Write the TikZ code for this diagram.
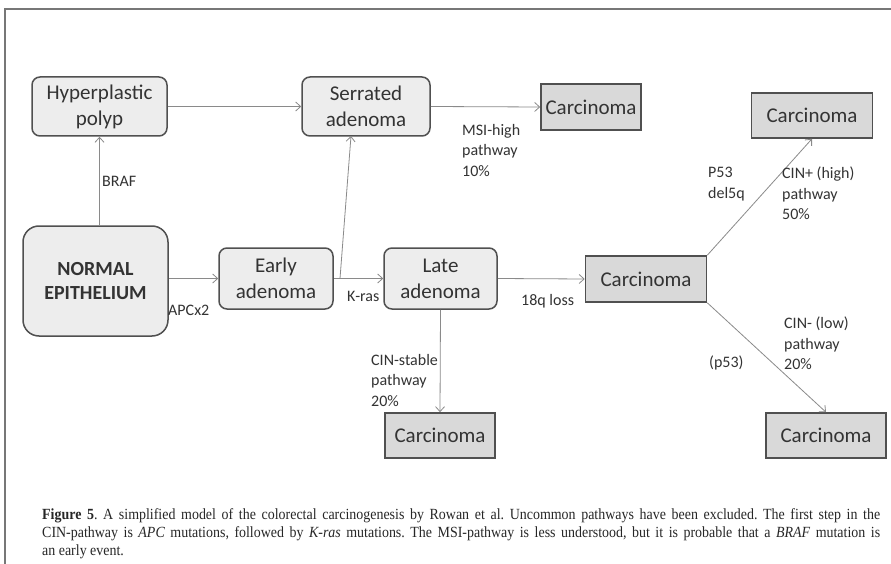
\documentclass[tikz,border=0pt]{standalone}
\usepackage{fontspec}
\setmainfont{Carlito}
\newfontfamily\capfont[FakeStretch=0.9]{Liberation Serif}
\usetikzlibrary{arrows.meta}
\definecolor{boxfill}{HTML}{EDEDED}
\definecolor{carfill}{HTML}{D9D9D9}
\definecolor{boxline}{HTML}{505050}
\definecolor{arrline}{HTML}{8A8A8A}
\definecolor{txt}{HTML}{333333}
\definecolor{frame}{HTML}{777777}
\tikzset{
  rbox/.style={draw=boxline, line width=1.5pt, fill=boxfill, rounded corners=8pt,
    align=center, inner sep=0pt, text=txt, font=\fontsize{21}{26}\selectfont},
  cbox/.style={draw=boxline, line width=1.6pt, fill=carfill, inner sep=0pt,
    text=txt, font=\fontsize{21}{26}\selectfont, minimum height=45pt},
  arr/.style={draw=arrline, line width=0.8pt, -{Straight Barb[length=5pt,width=9pt]}},
  lab/.style={inner sep=0pt, text=txt, align=left, font=\fontsize{16}{20.5}\selectfont},
}
\begin{document}
\begin{tikzpicture}[x=1pt,y=-1pt]
\useasboundingbox (0,0) rectangle (891,564);
\fill[white] (0,0) rectangle (891,564);
\draw[frame, line width=2pt] (5,564) -- (5,9) -- (891,9);

% nodes
\node[rbox, minimum width=135pt, minimum height=59pt] (hyp) at (99.5,106.5) {Hyperplastic\\polyp};
\node[rbox, minimum width=128pt, minimum height=59pt] (ser) at (366,106.5) {Serrated\\adenoma};
\node[cbox, minimum width=100pt, minimum height=46pt] (msi) at (591,107) {Carcinoma};
\node[cbox, minimum width=121pt] (tr) at (812,115.5) {Carcinoma};
\node[rbox, minimum width=145pt, minimum height=110pt, rounded corners=16pt,
  font=\bfseries\fontsize{20}{23.5}\selectfont] (norm) at (95.5,281) {NORMAL\\EPITHELIUM};
\node[rbox, minimum width=114pt, minimum height=61pt] (early) at (276,278.5) {Early\\adenoma};
\node[rbox, minimum width=113pt, minimum height=61pt] (late) at (440.5,278.5) {Late\\adenoma};
\node[cbox, minimum width=121pt, minimum height=46pt] (mid) at (646,279) {Carcinoma};
\node[cbox, minimum width=110pt] (cs) at (440,435.5) {Carcinoma};
\node[cbox, minimum width=120pt] (brc) at (826,435.5) {Carcinoma};

% connectors
\coordinate (branch) at (340,278.5);
\coordinate (serin) at (351,136);
\draw[arr] (norm.north -| hyp) -- (hyp.south);
\draw[arr] (hyp.east) -- (ser.west);
\draw[arr] (norm.east |- early.west) -- (early.west);
\draw[arr] (early.east) -- (late.west);
\draw[arr] (branch) -- (serin);
\draw[arr] (ser.east) -- (msi.west);
\draw[arr] (late.east) -- (mid.west);
\draw[arr] (late.south) -- (cs.north);
\draw[arr] (mid.north east) -- (tr.south);
\draw[arr] (mid.south east) -- (brc.north);

% labels
\node[lab, anchor=west] (lbraf) at (102,181) {BRAF};
\node[lab, anchor=west] (lapc) at (168,310) {APCx2};
\node[lab, anchor=west] (lkras) at (347,296) {K-ras};
\node[lab, anchor=north west] (lmsi) at (462,124) {MSI-high\\pathway\\10\%};
\node[lab, anchor=west] (l18q) at (521,301) {18q loss};
\node[lab, anchor=north west] (lcs) at (371,354) {CIN-stable\\pathway\\20\%};
\node[lab, anchor=north west] (lp53a) at (708,167) {P53\\del5q};
\node[lab, anchor=north west] (lcinp) at (782,167) {CIN+ (high)\\pathway\\50\%};
\node[lab, anchor=north west] (lcinm) at (784,317) {CIN- (low)\\pathway\\20\%};
\node[lab, anchor=west] (lp53b) at (709,363) {(p53)};

% caption
\node[anchor=north west, inner sep=0pt, align=left, text=black!85,
  font=\capfont\fontsize{15.5}{18}\selectfont\frenchspacing] (cap) at (42,508) {%
\makebox[838pt][s]{\textbf{Figure 5}. A simplified model of the colorectal carcinogenesis by Rowan et al. Uncommon pathways have been excluded. The first step in the}\\
\makebox[838pt][s]{CIN-pathway is \textit{APC} mutations, followed by \textit{K-ras} mutations. The MSI-pathway is less understood, but it is probable that a \textit{BRAF} mutation is}\\
an early event.};
\end{tikzpicture}
\end{document}
